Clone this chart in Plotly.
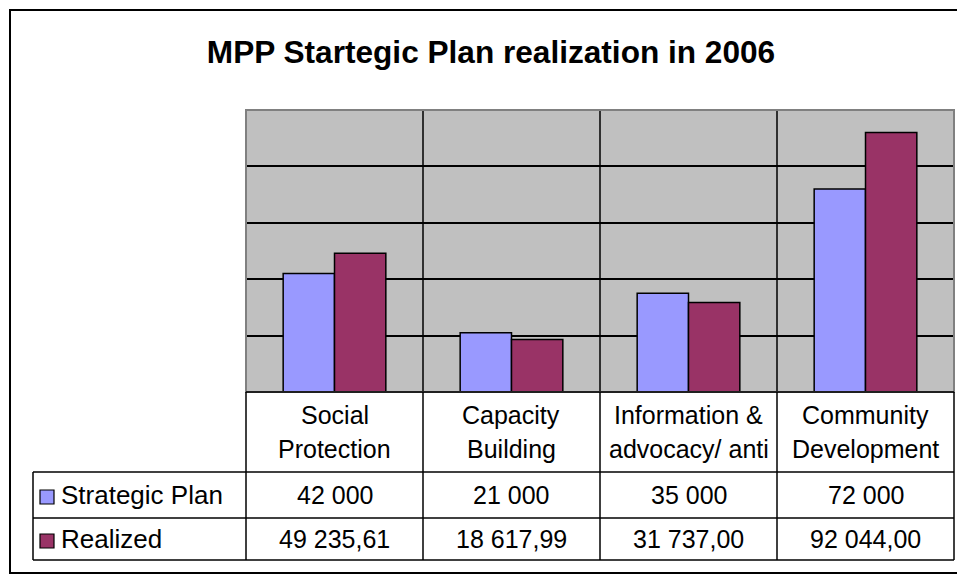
import plotly.graph_objects as go

categories = ["Social<br>Protection", "Capacity<br>Building", "Information &<br>advocacy/ anti", "Community<br>Development"]
series_names = ["Strategic Plan", "Realized"]
plan = [42000, 21000, 35000, 72000]
realized = [49235.61, 18617.99, 31737.00, 92044.00]
plan_labels = ["42 000", "21 000", "35 000", "72 000"]
realized_labels = ["49 235,61", "18 617,99", "31 737,00", "92 044,00"]
colors = ["#9999FF", "#993366"]

W, H = 957, 576
FONT = "Liberation Sans, Arial, sans-serif"


def px(x):
    return x / W


def py(y):
    return 1 - y / H


# pixel layout of the chart frame
plot_l, plot_r, plot_t, plot_b = 246, 954, 110, 392
row1, row2, tab_b = 472, 518, 560
leg_l = 33

fig = go.Figure()
for name, vals, col in zip(series_names, [plan, realized], colors):
    fig.add_trace(go.Bar(x=list(range(len(categories))), y=vals, name=name,
                         marker=dict(color=col, line=dict(color="black", width=1.5)),
                         showlegend=False, hoverinfo="y"))

shapes = []
line = dict(color="black", width=1.5)
# vertical separators between categories inside plot area
for i in range(len(categories) - 1):
    shapes.append(dict(type="line", xref="x", yref="y", x0=i + 0.5, x1=i + 0.5,
                       y0=0, y1=100000, line=line, layer="below"))
# plot area border
shapes.append(dict(type="rect", xref="paper", yref="paper", x0=px(plot_l), x1=px(plot_r),
                   y0=py(plot_b), y1=py(plot_t), line=dict(color="#808080", width=2)))

# data table
col_w = (plot_r - plot_l) / len(categories)
bounds = [plot_l + i * col_w for i in range(len(categories) + 1)]
for b in bounds:
    shapes.append(dict(type="line", xref="paper", yref="paper", x0=px(b), x1=px(b),
                       y0=py(tab_b), y1=py(plot_b), line=line))
shapes.append(dict(type="line", xref="paper", yref="paper", x0=px(plot_l), x1=px(plot_r),
                   y0=py(plot_b), y1=py(plot_b), line=line))
for yy in [row1, row2, tab_b]:
    shapes.append(dict(type="line", xref="paper", yref="paper", x0=px(leg_l), x1=px(plot_r),
                       y0=py(yy), y1=py(yy), line=line))
shapes.append(dict(type="line", xref="paper", yref="paper", x0=px(leg_l), x1=px(leg_l),
                   y0=py(tab_b), y1=py(row1), line=line))
# legend keys
for k, (r0, r1) in enumerate([(row1, row2), (row2, tab_b)]):
    cy = (r0 + r1) / 2 + 2
    shapes.append(dict(type="rect", xref="paper", yref="paper", x0=px(40), x1=px(54),
                       y0=py(cy + 7), y1=py(cy - 7),
                       fillcolor=colors[k], line=dict(color="black", width=1.2)))
# outer frame
shapes.append(dict(type="rect", xref="paper", yref="paper", x0=px(10), x1=px(962),
                   y0=py(573), y1=py(10), line=dict(color="black", width=2)))

ann = []
tfont = dict(family=FONT, size=25, color="black")
for i, c in enumerate(categories):
    cx = (bounds[i] + bounds[i + 1]) / 2
    for j, part in enumerate(c.split("<br>")):
        ann.append(dict(x=px(cx), y=py(415 + 34 * j), text=part, showarrow=False,
                        xref="paper", yref="paper", font=tfont,
                        xanchor="center", yanchor="middle"))
    ann.append(dict(x=px(cx), y=py((row1 + row2) / 2), text=plan_labels[i], showarrow=False,
                    xref="paper", yref="paper", font=tfont, xanchor="center", yanchor="middle"))
    ann.append(dict(x=px(cx), y=py((row2 + tab_b) / 2), text=realized_labels[i], showarrow=False,
                    xref="paper", yref="paper", font=tfont, xanchor="center", yanchor="middle"))
for k, (r0, r1) in enumerate([(row1, row2), (row2, tab_b)]):
    ann.append(dict(x=px(59), y=py((r0 + r1) / 2), text=series_names[k], showarrow=False,
                    xref="paper", yref="paper", xanchor="left", yanchor="middle",
                    font=dict(family=FONT, size=26, color="black")))

fig.update_layout(
    width=W, height=H,
    margin=dict(l=0, r=0, t=0, b=0),
    paper_bgcolor="white", plot_bgcolor="#C0C0C0",
    title=dict(text="<b>MPP Startegic Plan realization in 2006</b>", x=px(491), y=py(52),
               xanchor="center", yanchor="middle",
               font=dict(family=FONT, size=31.6, color="black")),
    xaxis=dict(domain=[px(plot_l), px(plot_r)], range=[-0.5, 3.5], showticklabels=False,
               showgrid=False, zeroline=False, fixedrange=True),
    yaxis=dict(domain=[py(plot_b), py(plot_t)], range=[0, 100000], dtick=20000,
               showticklabels=False, showgrid=True, gridcolor="black", gridwidth=1.5,
               zeroline=False, fixedrange=True),
    barmode="group", bargap=0.42, bargroupgap=0,
    shapes=shapes, annotations=ann,
)

fig.write_html("out.html", config={"displayModeBar": False},
               post_script="document.body.style.margin='0';")
